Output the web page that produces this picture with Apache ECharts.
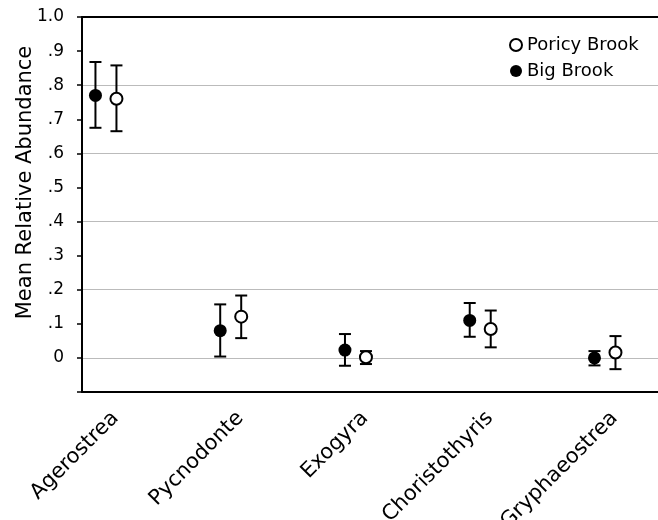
<!DOCTYPE html>
<html>
<head>
<meta charset="utf-8">
<script src="https://cdn.jsdelivr.net/npm/echarts@6/dist/echarts.min.js"></script>
<style>
  html, body { margin: 0; padding: 0; background: #fff; }
  #chart { width: 658px; height: 520px; }
</style>
</head>
<body>
<div id="chart"></div>
<script>
    // species along the x axis
    var species = ['Agerostrea', 'Pycnodonte', 'Exogyra', 'Choristothyris', 'Gryphaeostrea'];
    var slots = [0, 1, 2, 3, 4];

    // Big Brook (filled)
    var bigMean = [0.77, 0.08, 0.023, 0.11, 0.0];
    var bigLow  = [0.675, 0.004, -0.023, 0.062, -0.022];
    var bigHigh = [0.868, 0.157, 0.07, 0.161, 0.02];

    // Poricy Brook (open)
    var poricyMean = [0.76, 0.121, 0.002, 0.085, 0.016];
    var poricyLow  = [0.665, 0.058, -0.018, 0.031, -0.033];
    var poricyHigh = [0.858, 0.183, 0.02, 0.139, 0.064];

    var FONT = 'DejaVu Sans';
    var OFF = 10.5; // pixel shift of the two sites around each slot

    function pts(mean) {
        return slots.map(function (s, i) { return [s, mean[i]]; });
    }
    function bars(lo, hi) {
        return slots.map(function (s, i) { return [s, lo[i], hi[i]]; });
    }
    function errorBar(shift) {
        return function (params, api) {
            var a = api.coord([api.value(0), api.value(1)]);
            var b = api.coord([api.value(0), api.value(2)]);
            var x = a[0] + shift, cap = 6;
            var st = { stroke: '#000', lineWidth: 2 };
            return {
                type: 'group',
                children: [
                    { type: 'line', shape: { x1: x, y1: a[1], x2: x, y2: b[1] }, style: st },
                    { type: 'line', shape: { x1: x - cap, y1: a[1], x2: x + cap, y2: a[1] }, style: st },
                    { type: 'line', shape: { x1: x - cap, y1: b[1], x2: x + cap, y2: b[1] }, style: st }
                ]
            };
        };
    }

    var option = {
        animation: false,
        backgroundColor: '#fff',
        grid: [
            { left: 82, right: 0, top: 17, bottom: 128, outerBoundsMode: 'none' },
            // label strip: same slot width as the plot, labels sit a bit right of each slot
            { left: 53, width: 624, top: 17, bottom: 128, outerBoundsMode: 'none' }
        ],
        legend: {
            orient: 'vertical',
            left: 504,
            top: 31,
            itemWidth: 12,
            itemHeight: 12,
            itemGap: 8,
            data: ['Poricy Brook', 'Big Brook'],
            textStyle: { fontFamily: FONT, fontSize: 18, color: '#000' }
        },
        xAxis: [
            {
                type: 'value', gridIndex: 0, min: -0.192, max: 4.425,
                axisLine: { onZero: false, lineStyle: { color: '#000', width: 2 } },
                axisTick: { show: false }, axisLabel: { show: false }, splitLine: { show: false }
            },
            {
                type: 'value', gridIndex: 0, position: 'top', min: -0.192, max: 4.425,
                axisLine: { onZero: false, lineStyle: { color: '#000', width: 2 } },
                axisTick: { show: false }, axisLabel: { show: false }, splitLine: { show: false }
            },
            {
                type: 'category', gridIndex: 1, data: species,
                axisLine: { show: false, onZero: false }, axisTick: { show: false },
                axisLabel: { rotate: 45, margin: 23, fontFamily: FONT, fontSize: 21, color: '#000', interval: 0 }
            }
        ],
        yAxis: [
            {
                type: 'value', gridIndex: 0, min: -0.1, max: 1.0, interval: 0.1,
                name: 'Mean Relative Abundance',
                nameLocation: 'middle', nameGap: 46, nameMoveOverlap: false,
                nameTextStyle: { fontFamily: FONT, fontSize: 21, color: '#000', padding: [0, 0, 0, 44] },
                axisLine: { onZero: false, lineStyle: { color: '#000', width: 2 } },
                axisTick: { show: true, length: 5, lineStyle: { color: '#000', width: 1.5 } },
                axisLabel: {
                    margin: 18, fontFamily: FONT, fontSize: 17, color: '#000',
                    formatter: function (v) {
                        if (v < -0.05) return '';
                        if (Math.abs(v) < 1e-9) return '0';
                        if (v > 0.95) return '1.0';
                        return '.' + Math.round(v * 10);
                    }
                },
                splitLine: { show: true, lineStyle: { color: ['rgba(0,0,0,0)', '#bbbbbb'], width: 1 } }
            },
            { type: 'value', gridIndex: 1, show: false }
        ],
        series: [
            {
                name: 'Poricy Brook err', type: 'custom', xAxisIndex: 0, yAxisIndex: 0,
                renderItem: errorBar(OFF), encode: { x: 0, y: [1, 2] },
                data: bars(poricyLow, poricyHigh), z: 2
            },
            {
                name: 'Big Brook err', type: 'custom', xAxisIndex: 0, yAxisIndex: 0,
                renderItem: errorBar(-OFF), encode: { x: 0, y: [1, 2] },
                data: bars(bigLow, bigHigh), z: 2
            },
            {
                name: 'Poricy Brook', type: 'scatter', xAxisIndex: 0, yAxisIndex: 0,
                symbol: 'circle', symbolSize: 12, symbolOffset: [OFF, 0],
                itemStyle: { color: '#fff', borderColor: '#000', borderWidth: 2, opacity: 1 },
                data: pts(poricyMean), z: 5
            },
            {
                name: 'Big Brook', type: 'scatter', xAxisIndex: 0, yAxisIndex: 0,
                symbol: 'circle', symbolSize: 13, symbolOffset: [-OFF, 0],
                itemStyle: { color: '#000', opacity: 1 },
                data: pts(bigMean), z: 5
            }
        ]
    };

    var myecharts = echarts.init(document.getElementById('chart'), null, { renderer: 'canvas' });
    myecharts.setOption(option);
</script>
</body>
</html>
